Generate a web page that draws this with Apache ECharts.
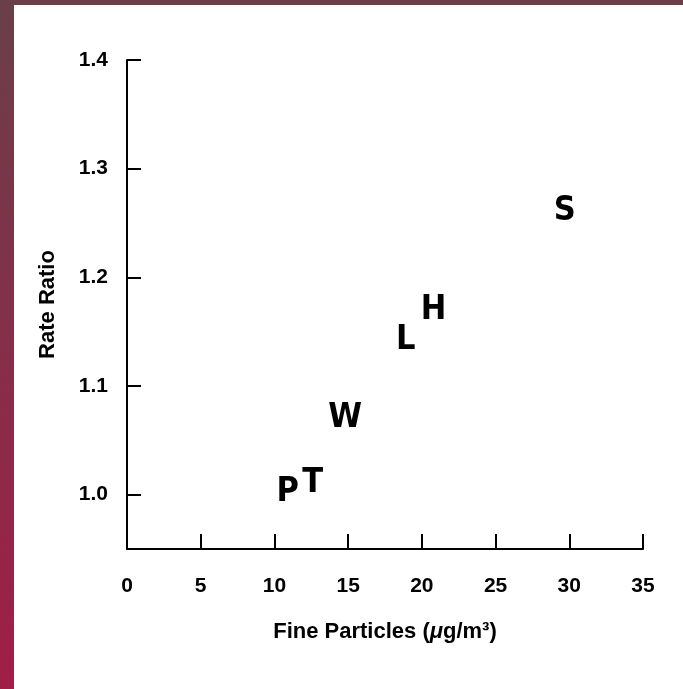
<!DOCTYPE html>
<html>
<head>
<meta charset="utf-8">
<script src="https://cdn.jsdelivr.net/npm/echarts@6/dist/echarts.min.js"></script>
<style>
html,body{margin:0;padding:0;background:#fff;}
#c{width:683px;height:689px;}
</style>
</head>
<body>
<div id="c"></div>
<script>
// Data
const cityCodes = ['P', 'T', 'W', 'L', 'H', 'S'];
const fineParticles = [10.9, 12.6, 14.8, 18.9, 20.8, 29.7];
const rateRatio = [1.002, 1.011, 1.070, 1.142, 1.170, 1.261];
const yTickValues = [1.0, 1.1, 1.2, 1.3, 1.4];
const xTickValues = [0, 5, 10, 15, 20, 25, 30, 35];

const pts = cityCodes.map((c, i) => [fineParticles[i], rateRatio[i], c]);
const font = '"Liberation Sans", Arial, Helvetica, sans-serif';

const chart = echarts.init(document.getElementById('c'), null, {renderer: 'canvas'});
chart.setOption({
  backgroundColor: '#ffffff',
  animation: false,
  graphic: [
    {type: 'rect', left: 0, top: 0, z: 100, shape: {width: 683, height: 5}, style: {fill: '#6a3f4a'}},
    {type: 'rect', left: 0, top: 0, z: 100, shape: {width: 14, height: 689},
      style: {fill: new echarts.graphic.LinearGradient(0, 0, 0, 1, [
        {offset: 0, color: '#6a3f4a'},
        {offset: 1, color: '#a01e48'}
      ])}}
  ],
  grid: {left: 127, right: 40, top: 60, bottom: 140, containLabel: false},
  xAxis: {
    type: 'value', min: 0, max: 35, interval: 5,
    name: '{n|Fine Particles (}{i|μ}{n|g/m³)}',
    nameLocation: 'middle', nameGap: 72,
    nameTextStyle: {rich: {
      n: {fontFamily: font, fontSize: 22, color: '#000', fontWeight: 'bold'},
      i: {fontFamily: font, fontSize: 22, color: '#000', fontStyle: 'italic', fontWeight: 'bold'}
    }},
    axisLine: {show: true, onZero: false, lineStyle: {color: '#000', width: 2}},
    axisTick: {show: true, inside: true, length: 15, lineStyle: {color: '#000', width: 2}},
    axisLabel: {fontFamily: font, fontSize: 21, fontWeight: 'bold', color: '#000', margin: 27},
    splitLine: {show: false}
  },
  yAxis: {
    type: 'value', min: 0.95, max: 1.4, interval: 0.05,
    name: 'Rate Ratio', nameLocation: 'middle', nameGap: 68,
    nameTextStyle: {fontFamily: font, fontSize: 22, fontWeight: 'bold', color: '#000'},
    axisLine: {show: true, onZero: false, lineStyle: {color: '#000', width: 2}},
    axisTick: {show: true, inside: true, length: 14, customValues: yTickValues, lineStyle: {color: '#000', width: 2}},
    axisLabel: {fontFamily: font, fontSize: 21, fontWeight: 'bold', color: '#000', margin: 19,
      customValues: yTickValues, formatter: v => v.toFixed(1)},
    splitLine: {show: false}
  },
  series: [{
    type: 'scatter',
    data: pts,
    symbolSize: 1,
    itemStyle: {color: 'rgba(0,0,0,0)', opacity: 1},
    label: {
      show: true, position: 'inside',
      formatter: p => p.value[2],
      fontFamily: '"Liberation Sans Narrow", "DejaVu Sans Condensed", Arial, sans-serif',
      fontSize: 34, fontWeight: 'bold', color: '#000'
    }
  }]
});
</script>
</body>
</html>
